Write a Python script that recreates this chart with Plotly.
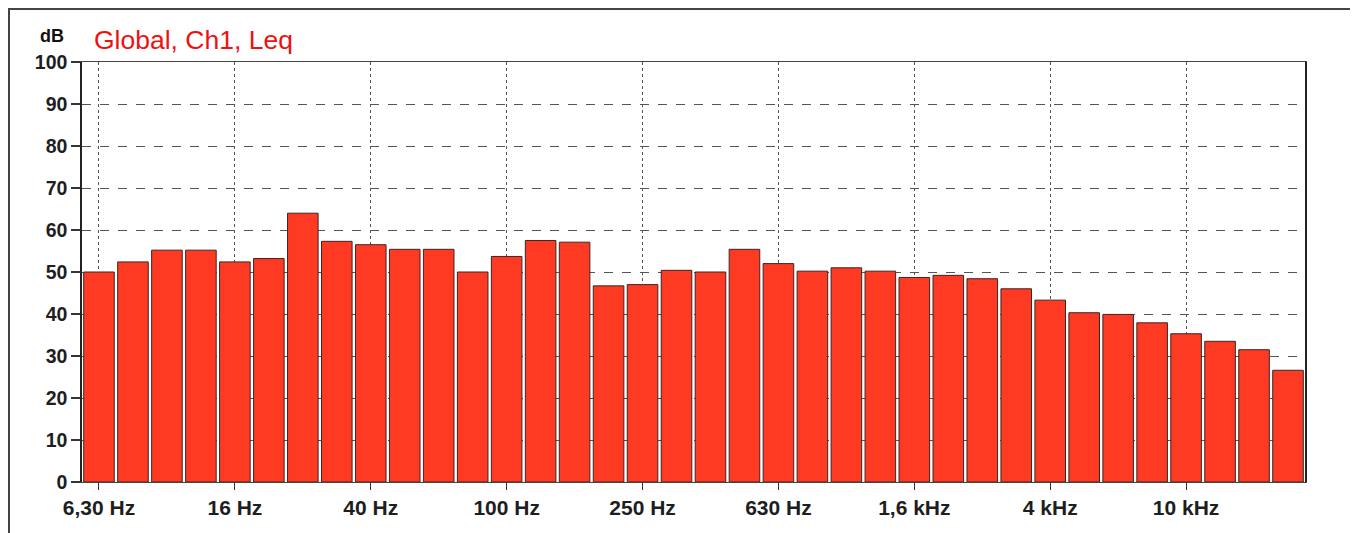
import plotly.graph_objects as go

# 1/3-octave band centre frequencies (categories)
bands = ["6.3", "8", "10", "12.5", "16", "20", "25", "31.5", "40", "50", "63", "80",
         "100", "125", "160", "200", "250", "315", "400", "500", "630", "800", "1000",
         "1250", "1600", "2000", "2500", "3150", "4000", "5000", "6300", "8000",
         "10000", "12500", "16000", "20000"]

# Leq level per band (dB)
leq_db = [50.0, 52.4, 55.2, 55.2, 52.4, 53.2, 64.0, 57.3, 56.5, 55.4, 55.4, 50.0,
          53.7, 57.5, 57.1, 46.7, 47.0, 50.4, 50.0, 55.4, 52.0, 50.2, 51.0, 50.2,
          48.7, 49.2, 48.4, 46.0, 43.3, 40.3, 39.9, 37.9, 35.3, 33.5, 31.5, 26.6]

# labelled ticks
tick_bands = ["6.3", "16", "40", "100", "250", "630", "1600", "4000", "10000"]
tick_labels = ["6,30 Hz", "16 Hz", "40 Hz", "100 Hz", "250 Hz", "630 Hz",
               "1,6 kHz", "4 kHz", "10 kHz"]
y_ticks = [0, 10, 20, 30, 40, 50, 60, 70, 80, 90, 100]

FONT = "Arial, Liberation Sans, sans-serif"

fig = go.Figure()
fig.add_trace(go.Bar(
    x=bands, y=leq_db,
    marker=dict(color="#ff3a22", line=dict(color="#3a2626", width=1)),
    hoverinfo="x+y",
))

# page body has an 8px margin, so the figure is sized to fit the window
W, H = 1350, 525
L, R, T, B = 74, 53, 54, 51

fig.update_layout(
    width=W, height=H,
    margin=dict(l=L, r=R, t=T, b=B),
    paper_bgcolor="white", plot_bgcolor="white",
    bargap=0.1,
    showlegend=False,
    font=dict(family=FONT, color="#1e1e1e"),
    xaxis=dict(
        type="category",
        range=[-0.5, len(bands) - 0.5],
        tickmode="array", tickvals=tick_bands, ticktext=tick_labels,
        ticks="outside", ticklen=7, tickcolor="#333", tickwidth=1,
        tickfont=dict(size=21, family=FONT, color="#1e1e1e", weight="bold"),
        showgrid=True, gridcolor="#555", gridwidth=1, griddash="dot",
        showline=True, linecolor="#444", linewidth=1.2, mirror=True,
        zeroline=False, fixedrange=True,
    ),
    yaxis=dict(
        range=[0, 100],
        tickmode="array", tickvals=y_ticks,
        ticks="outside", ticklen=9, tickcolor="#333", tickwidth=1.5,
        tickfont=dict(size=19.5, family=FONT, color="#1e1e1e", weight="bold"),
        showgrid=True, gridcolor="#555", gridwidth=1, griddash="dash",
        showline=True, linecolor="#222", linewidth=1.5, mirror=True,
        zeroline=False, fixedrange=True,
    ),
    annotations=[
        dict(text="Global, Ch1, Leq", xref="paper", yref="paper", x=0, y=1,
             xanchor="left", yanchor="middle", xshift=10, yshift=22,
             showarrow=False, font=dict(size=26.5, family=FONT, color="#ee1111")),
        dict(text="<b>dB</b>", xref="paper", yref="paper", x=0, y=1,
             xanchor="right", yanchor="middle", xshift=-16, yshift=26,
             showarrow=False, font=dict(size=18, family=FONT, color="#111")),
    ],
)

# outer document frame (scan border)
pw = W - L - R
ph = H - T - B
fig.add_shape(type="rect", xref="paper", yref="paper",
              x0=(1 - L) / pw, x1=(1348 - L) / pw,
              y0=(H - 540 - B) / ph, y1=(H - 1 - B) / ph,
              line=dict(color="#444", width=2), fillcolor="rgba(0,0,0,0)",
              layer="below")

fig.write_html("out.html")
